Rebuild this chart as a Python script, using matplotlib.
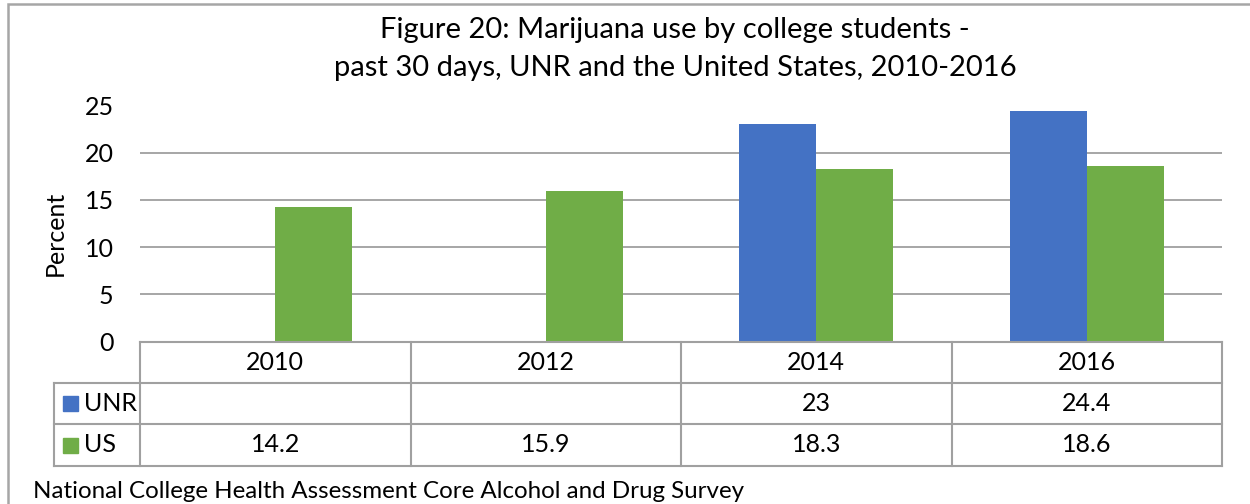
import numpy as np
import matplotlib.pyplot as plt
from matplotlib.lines import Line2D
from matplotlib.patches import Rectangle

plt.rcParams['font.family'] = ['Lato', 'DejaVu Sans']

# Marijuana use, past 30 days (%)
years = ['2010', '2012', '2014', '2016']
series = ['UNR', 'US']
unr = [None, None, 23, 24.4]
us = [14.2, 15.9, 18.3, 18.6]
colors = ['#4472C4', '#70AD47']

W, H = 1250, 504
fig = plt.figure(figsize=(W / 100, H / 100), dpi=100)


def fx(px):
    return px / W


def fy(py):
    return 1 - py / H


grid_c = '#a6a6a6'
tab_c = '#a0a0a0'
txt = '#000000'

ax = fig.add_axes([fx(140), fy(341.5), fx(1222) - fx(140), fy(105.5) - fy(341.5)])
x = np.arange(len(years))
bw = 0.285
unr_vals = [np.nan if v is None else v for v in unr]
ax.bar(x - bw / 2, unr_vals, bw, color=colors[0], zorder=3)
ax.bar(x + bw / 2, us, bw, color=colors[1], zorder=3)
ax.set_xlim(-0.5, len(years) - 0.5)
ax.set_ylim(0, 25)
ax.set_yticks(range(0, 26, 5))
ax.set_xticks([])
ax.yaxis.grid(True, color=grid_c, lw=1.4)
ax.set_axisbelow(True)
for s in ax.spines.values():
    s.set_visible(False)
ax.tick_params(axis='y', length=0, labelsize=18, pad=19, labelcolor=txt)
fig.text(fx(55), fy(233), 'Percent', rotation=90, ha='center', va='center',
         fontsize=18, color=txt)

# two-line title
fig.text(fx(675), fy(30), 'Figure 20: Marijuana use by college students -',
         ha='center', va='center', fontsize=21, color=txt)
fig.text(fx(675), fy(68), 'past 30 days, UNR and the United States, 2010-2016',
         ha='center', va='center', fontsize=21, color=txt)

# data table under the plot
col_px = [ax.transData.transform((v, 0))[0] for v in np.arange(len(years) + 1) - 0.5]
rows_px = [342, 383, 424, 466]
head_left = 54


def hline(y, x0, x1):
    fig.add_artist(Line2D([fx(x0), fx(x1)], [fy(y), fy(y)], color=tab_c, lw=1.5))


def vline(xp, y0, y1):
    fig.add_artist(Line2D([fx(xp), fx(xp)], [fy(y0), fy(y1)], color=tab_c, lw=1.5))


hline(rows_px[0], col_px[0], col_px[-1])
for y in rows_px[1:]:
    hline(y, head_left, col_px[-1])
for xp in col_px:
    vline(xp, rows_px[0], rows_px[-1])
vline(head_left, rows_px[1], rows_px[-1])

for i, yr in enumerate(years):
    cx = (col_px[i] + col_px[i + 1]) / 2
    fig.text(fx(cx), fy((rows_px[0] + rows_px[1]) / 2), yr, ha='center', va='center',
             fontsize=18, color=txt)
    for r, vals in enumerate([unr, us]):
        v = vals[i]
        if v is None:
            continue
        fig.text(fx(cx), fy((rows_px[r + 1] + rows_px[r + 2]) / 2), f'{v:g}',
                 ha='center', va='center', fontsize=18, color=txt)

for r, (name, c) in enumerate(zip(series, colors)):
    yc = (rows_px[r + 1] + rows_px[r + 2]) / 2
    fig.add_artist(Rectangle((fx(63), fy(yc + 7.5)), fx(15), fy(yc - 7.5) - fy(yc + 7.5),
                             color=c, transform=fig.transFigure))
    fig.text(fx(84), fy(yc), name, ha='left', va='center', fontsize=18, color=txt)

fig.text(fx(33), fy(491), 'National College Health Assessment Core Alcohol and Drug Survey',
         ha='left', va='center', fontsize=17.4, color=txt)

# chart frame
fig.add_artist(Rectangle((fx(7.5), fy(560)), fx(1300), fy(3.5) - fy(560), fill=False,
                         edgecolor=grid_c, lw=1.8, transform=fig.transFigure))

fig.savefig('out.png', dpi=100)
